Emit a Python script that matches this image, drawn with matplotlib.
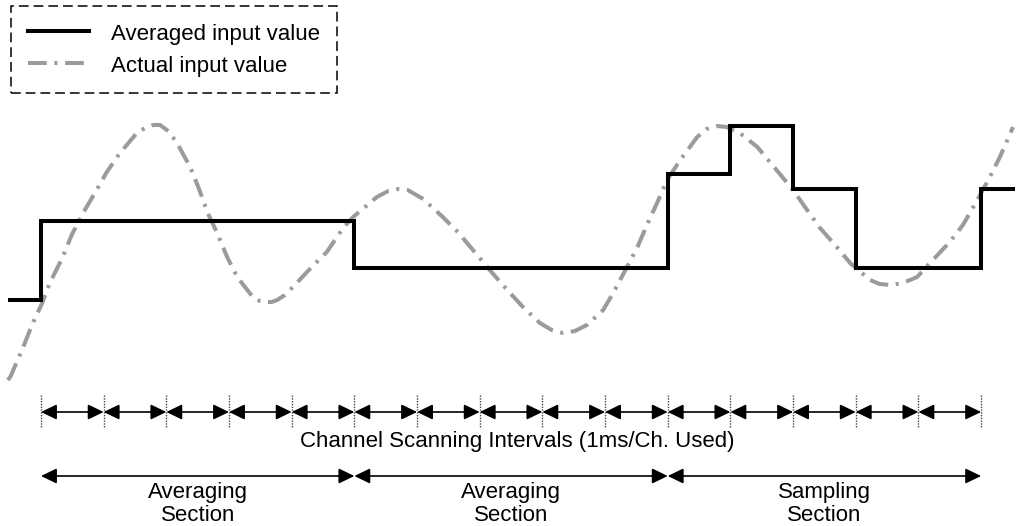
import numpy as np
import matplotlib
matplotlib.use("Agg")
import matplotlib.pyplot as plt
from matplotlib.patches import ArrowStyle

plt.rcParams['font.family'] = ['Liberation Sans', 'DejaVu Sans']
plt.rcParams['lines.scale_dashes'] = False

# ---- data (time in scan intervals of 1 ms, value in arbitrary units) ----
step_t = [-0.5, 0, 5, 10, 11, 12, 13, 15, 15.51]
step_v = [0.0, 7.9, 3.2, 12.6, 17.4, 11.1, 3.2, 11.1, 11.1]

actual_t = [-0.53, -0.49, -0.29, -0.13, 0.02, 0.14, 0.34, 0.49, 0.67, 0.86, 1.05,
            1.26, 1.53, 1.66, 1.79, 1.90, 2.03, 2.17, 2.38, 2.51, 2.66, 2.81,
            2.97, 3.13, 3.38, 3.49, 3.61, 3.68, 3.77, 3.89, 4.02, 4.32, 4.56,
            4.82, 4.98, 5.36, 5.54, 5.70, 5.85, 6.10,
            6.41, 6.65, 6.96, 7.16, 7.44, 7.69, 7.96, 8.15, 8.33, 8.52, 8.71,
            8.97, 9.13, 9.35, 9.51, 9.69, 9.83, 9.99, 10.20, 10.47, 10.62,
            10.79, 10.94, 11.15, 11.43, 11.71, 12.00, 12.19, 12.43, 12.67,
            12.91, 13.23, 13.38, 13.55, 13.75, 13.98,
            14.23, 14.50, 14.71, 14.94, 15.14, 15.30, 15.51]
actual_v = [-8.0, -7.7, -4.8, -2.3, -0.3, 1.7, 4.2, 6.5, 8.7, 10.7, 12.8,
            14.7, 16.7, 17.2, 17.5, 17.5, 16.9, 15.7, 13.3, 11.3, 8.7, 6.7,
            4.3, 2.3, 0.3, -0.1, -0.2, -0.2, 0.0, 0.5, 1.3, 3.3, 4.8,
            7.2, 8.3, 10.3, 10.9, 11.1, 11.0, 10.1,
            8.3, 6.8, 4.5, 3.0, 1.0, -0.7, -2.3, -3.0, -3.3, -3.1, -2.5,
            -1.0, 0.7, 3.3, 5.2, 7.8, 9.7, 12.0, 14.0, 16.3, 17.1,
            17.4, 17.3, 16.7, 15.3, 13.2, 11.0, 9.3, 7.2, 5.5,
            3.7, 2.0, 1.6, 1.5, 1.7, 2.3,
            4.0, 5.8, 7.5, 10.0, 12.3, 14.3, 17.3]

scan_ticks = list(range(0, 16))
section_bounds = [0, 5, 10, 15]
section_labels = ["Averaging\nSection", "Averaging\nSection", "Sampling\nSection"]
scan_label = "Channel Scanning Intervals (1ms/Ch. Used)"
legend_labels = ["Averaged input value", "Actual input value"]

# ---- figure ----
fig = plt.figure(figsize=(10.16, 5.26), dpi=100)
ax = fig.add_axes([0, 0, 1, 1])
ax.set_xlim(-0.654, 15.557)
ax.set_ylim(-22.6, 30.0)
ax.axis('off')

gray = '#9b9b9b'
act, = ax.plot(actual_t, actual_v, color=gray, lw=2.9,
               linestyle=(0, (13.5, 5.5, 2.2, 5.5)), dash_capstyle='butt',
               solid_joinstyle='round', zorder=2)
avg, = ax.plot(step_t, step_v, color='black', lw=2.9, drawstyle='steps-post',
               solid_joinstyle='miter', zorder=3)

fs = 16
leg = ax.legend([avg, act], legend_labels, loc='upper left',
                bbox_to_anchor=(11 / 1016, 1 - 6 / 526), borderaxespad=0,
                frameon=True, fancybox=False, framealpha=1, edgecolor='black',
                fontsize=fs, handlelength=2.75, handletextpad=1.0,
                borderpad=0.75, labelspacing=0.4, handleheight=1.0)
fr = leg.get_frame()
fr.set_linestyle((0, (7, 3.6)))
fr.set_linewidth(1.1)

# ---- scan interval arrows ----
y_scan = -11.2
style = ArrowStyle('<|-|>', head_length=9.5, head_width=4.6)
for a, b in zip(scan_ticks[:-1], scan_ticks[1:]):
    ax.annotate('', xy=(b, y_scan), xytext=(a, y_scan),
                arrowprops=dict(arrowstyle=style, color='black', lw=1.2,
                                shrinkA=0, shrinkB=0, mutation_scale=1))
for t in scan_ticks:
    ax.plot([t, t], [-9.5, -12.8], color='#444444', lw=1.0,
            linestyle=(0, (1.0, 1.0)), zorder=1)
ax.text(np.mean(scan_ticks) + 0.1, -14.1, scan_label, ha='center', va='center',
        fontsize=fs)

# ---- section arrows ----
y_sec = -17.6
for (a, b), lab in zip(zip(section_bounds[:-1], section_bounds[1:]), section_labels):
    ax.annotate('', xy=(b, y_sec), xytext=(a, y_sec),
                arrowprops=dict(arrowstyle=style, color='black', lw=1.2,
                                shrinkA=0, shrinkB=0, mutation_scale=1))
    ax.text((a + b) / 2, -20.4, lab, ha='center', va='center', fontsize=fs,
            linespacing=1.1)

fig.savefig('out.png', dpi=100)
